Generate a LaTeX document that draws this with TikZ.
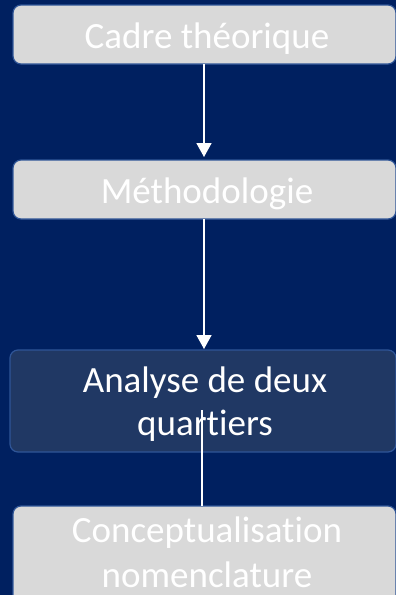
\documentclass[tikz,border=0pt]{standalone}
\usepackage{fontspec}
\setmainfont[Ligatures=NoCommon]{Carlito}
\usetikzlibrary{arrows.meta}
\definecolor{bgnavy}{HTML}{002060}
\definecolor{boxgray}{HTML}{D9D9D9}
\definecolor{boxedge}{HTML}{2F5597}
\definecolor{boxdark}{HTML}{203864}
\begin{document}
\begin{tikzpicture}[x=1pt,y=-1pt,
  graybox/.style={draw=boxedge,line width=1.2pt,fill=boxgray,rounded corners=8pt},
  darkbox/.style={draw=boxedge,line width=1.2pt,fill=boxdark,rounded corners=8pt},
  lbl/.style={text=white,font=\fontsize{37}{43}\selectfont,align=center,inner sep=0pt},
  conn/.style={draw=white,line width=1.8pt},
  arr/.style={conn,-{Triangle[width=15pt,length=14pt]}}]
\useasboundingbox (0,0) rectangle (396,595);
\fill[bgnavy] (0,0) rectangle (396,595);
% boxes
\draw[graybox] (13,5) rectangle (396,64);
\node[lbl,anchor=base] (t1) at (207,48) {Cadre théorique};
\coordinate (b1) at (204,64);
\draw[graybox] (13,160) rectangle (396,219);
\node[lbl,anchor=base] (t2) at (207,203) {Méthodologie};
\coordinate (b2top) at (204,157);
\coordinate (b2) at (204,219);
\draw[darkbox] (10,350) rectangle (396,452);
\node[lbl,anchor=base] (t3a) at (205,392) {Analyse de deux};
\node[lbl,anchor=base] (t3b) at (205,435) {quartiers};
\coordinate (b3top) at (204,349);
\coordinate (b3in) at (202,410);
\draw[graybox] (13,506) rectangle (396,620);
\node[lbl,anchor=base] (t4a) at (207,542) {Conceptualisation};
\node[lbl,anchor=base] (t4b) at (207,587) {nomenclature};
\coordinate (b4top) at (202,506);
% connectors
\draw[arr] (b1) -- (b2top);
\draw[arr] (b2) -- (b3top);
\draw[conn] (b3in) -- (b4top);
\end{tikzpicture}
\end{document}
